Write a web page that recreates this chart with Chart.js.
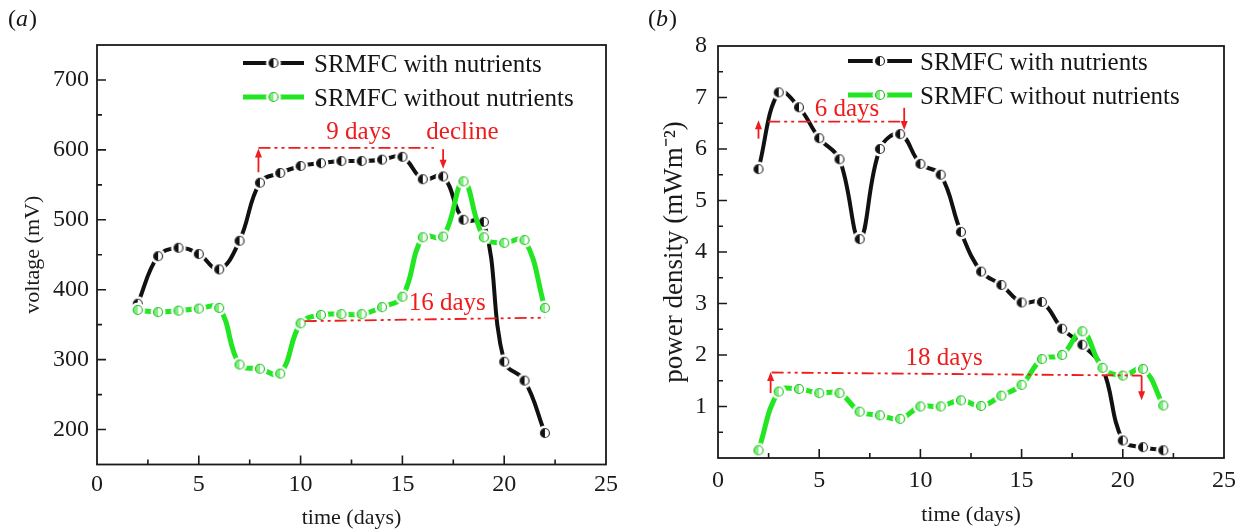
<!DOCTYPE html>
<html>
<head>
<meta charset="utf-8">
<script src="https://cdn.jsdelivr.net/npm/chart.js@4.4.0/dist/chart.umd.min.js"></script>
<style>
html, body { margin: 0; padding: 0; background: #fff; }
#wrap { position: relative; width: 1248px; height: 531px; }
canvas { position: absolute; top: 0; }
</style>
</head>
<body>
<div id="wrap">
  <canvas id="chartA" width="624" height="531" style="left:0"></canvas>
  <canvas id="chartB" width="624" height="531" style="left:624px"></canvas>
</div>
<script>
// time axis (days)
const days = [2, 3, 4, 5, 6, 7, 8, 9, 10, 11, 12, 13, 14, 15, 16, 17, 18, 19, 20, 21, 22];
const seriesNames = ["SRMFC with nutrients", "SRMFC without nutrients"];

// (a) voltage, mV
const voltWith = [380, 448, 460, 451, 429, 470, 553, 567, 577, 581, 584, 584, 586, 590, 558, 562, 500, 497, 297, 270, 195];
const voltWithout = [371, 368, 370, 373, 374, 293, 287, 280, 352, 364, 365, 365, 375, 390, 475, 476, 555, 475, 467, 471, 374];

// (b) power density, mW m-2
const powerWith = [5.61, 7.10, 6.81, 6.21, 5.80, 4.25, 6.00, 6.29, 5.71, 5.50, 4.39, 3.62, 3.36, 3.02, 3.03, 2.51, 2.20, 1.75, 0.34, 0.21, 0.15];
const powerWithout = [0.15, 1.29, 1.34, 1.26, 1.26, 0.90, 0.83, 0.76, 1.00, 1.00, 1.12, 1.01, 1.21, 1.42, 1.92, 2.00, 2.46, 1.75, 1.60, 1.73, 1.02];

// tick labels
const xTicks = [0, 5, 10, 15, 20, 25];
const voltTicks = [200, 300, 400, 500, 600, 700];
const powerTicks = [1, 2, 3, 4, 5, 6, 7, 8];

const SERIF = "'Liberation Serif', 'Times New Roman', serif";
const RED = "#ee1c1c";
const BLACK = "#111111";
const GREEN = "#22e622";

// small half filled circle with a white ring round it (leaves the gap in the line)
function makeMarker(fill, edge) {
  const c = document.createElement("canvas");
  c.width = c.height = 18;
  const g = c.getContext("2d");
  g.fillStyle = "#fff";
  g.beginPath(); g.arc(9, 9, 7.5, 0, Math.PI * 2); g.fill();
  g.beginPath(); g.arc(9, 9, 4.5, Math.PI / 2, Math.PI * 1.5); g.closePath();
  g.fillStyle = fill; g.fill();
  g.beginPath(); g.arc(9, 9, 4.5, 0, Math.PI * 2);
  g.strokeStyle = edge; g.lineWidth = 1.2; g.stroke();
  return c;
}
const markBlack = makeMarker("#111", "#333");
const markGreen = makeMarker("#7bf07b", "#2bbf2b");

function toPoints(ys) {
  return days.map((d, i) => ({ x: d, y: ys[i] }));
}

// frame, inward ticks, legend, notes, panel letter
const decor = {
  id: "decor",
  afterDatasetsDraw(chart, args, o) {
    const ctx = chart.ctx;
    const xs = chart.scales.x, ys = chart.scales.y;
    ctx.save();
    // dash-dot-dot lines
    ctx.strokeStyle = RED;
    ctx.lineWidth = 1.8;
    ctx.setLineDash([12, 4, 3, 4, 3, 4]);
    o.lines.forEach(l => {
      ctx.beginPath();
      ctx.moveTo(xs.getPixelForValue(l[0]), ys.getPixelForValue(l[1]));
      ctx.lineTo(xs.getPixelForValue(l[2]), ys.getPixelForValue(l[3]));
      ctx.stroke();
    });
    ctx.setLineDash([]);
    // arrows
    ctx.fillStyle = RED;
    o.arrows.forEach(a => {
      const x = xs.getPixelForValue(a[0]);
      const y0 = ys.getPixelForValue(a[1]), y1 = ys.getPixelForValue(a[2]);
      const dir = y1 > y0 ? 1 : -1;
      ctx.beginPath();
      ctx.moveTo(x, y0); ctx.lineTo(x, y1 - dir * 6);
      ctx.stroke();
      ctx.beginPath();
      ctx.moveTo(x, y1); ctx.lineTo(x - 3.5, y1 - dir * 9); ctx.lineTo(x + 3.5, y1 - dir * 9);
      ctx.closePath(); ctx.fill();
    });
    // texts
    ctx.font = "25px " + SERIF;
    ctx.textAlign = "center";
    ctx.textBaseline = "middle";
    o.texts.forEach(t => {
      ctx.fillText(t[2], xs.getPixelForValue(t[0]), ys.getPixelForValue(t[1]));
    });
    ctx.restore();
  },
  afterDraw(chart, args, o) {
    const ctx = chart.ctx;
    const a = chart.chartArea;
    const xs = chart.scales.x, ys = chart.scales.y;
    ctx.save();
    ctx.strokeStyle = "#1a1a1a";
    ctx.lineWidth = 1.8;
    ctx.strokeRect(a.left, a.top, a.right - a.left, a.bottom - a.top);
    ctx.lineWidth = 1.6;
    ctx.beginPath();
    o.xMajor.forEach(v => {
      const x = xs.getPixelForValue(v);
      ctx.moveTo(x, a.bottom); ctx.lineTo(x, a.bottom - 9);
    });
    o.xMinor.forEach(v => {
      const x = xs.getPixelForValue(v);
      ctx.moveTo(x, a.bottom); ctx.lineTo(x, a.bottom - 5);
    });
    o.yMajor.forEach(v => {
      const y = ys.getPixelForValue(v);
      ctx.moveTo(a.left, y); ctx.lineTo(a.left + 9, y);
    });
    o.yMinor.forEach(v => {
      const y = ys.getPixelForValue(v);
      ctx.moveTo(a.left, y); ctx.lineTo(a.left + 5, y);
    });
    ctx.stroke();

    // legend
    const lg = o.legend;
    ctx.font = "25px " + SERIF;
    ctx.textAlign = "left";
    ctx.textBaseline = "middle";
    chart.data.datasets.forEach((ds, i) => {
      const y = lg.y + i * lg.dy;
      ctx.strokeStyle = ds.borderColor;
      ctx.lineWidth = ds.borderWidth;
      ctx.beginPath(); ctx.moveTo(lg.x0, y); ctx.lineTo(lg.x1, y); ctx.stroke();
      const m = ds.pointStyle;
      ctx.drawImage(m, (lg.x0 + lg.x1) / 2 - m.width / 2, y - m.height / 2);
      ctx.fillStyle = "#151515";
      ctx.fillText(ds.label, lg.xt, y + 2);
    });

    // panel letter
    ctx.fillStyle = "#151515";
    let px = o.tag.x;
    ctx.font = "24px " + SERIF;
    ctx.fillText("(", px, o.tag.y); px += ctx.measureText("(").width;
    ctx.font = "italic 24px " + SERIF;
    ctx.fillText(o.tag.t, px, o.tag.y); px += ctx.measureText(o.tag.t).width + 1;
    ctx.font = "24px " + SERIF;
    ctx.fillText(")", px, o.tag.y);
    ctx.restore();
  }
};

function buildChart(id, p) {
  return new Chart(document.getElementById(id), {
    type: "line",
    plugins: [decor],
    data: {
      datasets: [
        {
          label: seriesNames[0], data: toPoints(p.withData),
          borderColor: BLACK, borderWidth: 4, tension: 0.4,
          pointStyle: markBlack, pointRadius: 6, order: 1
        },
        {
          label: seriesNames[1], data: toPoints(p.withoutData),
          borderColor: GREEN, borderWidth: 5, tension: 0.4,
          pointStyle: markGreen, pointRadius: 6, order: 0
        }
      ]
    },
    options: {
      responsive: false,
      animation: false,
      events: [],
      layout: { padding: p.pad },
      plugins: {
        legend: { display: false },
        tooltip: { enabled: false },
        decor: p.decor
      },
      scales: {
        x: {
          type: "linear", min: 0, max: 25,
          grid: { display: false, drawTicks: false }, border: { display: false },
          afterBuildTicks: s => { s.ticks = xTicks.map(v => ({ value: v })); },
          afterFit: s => { s.height = p.xH; },
          ticks: { color: "#1a1a1a", padding: p.xPad, font: { family: SERIF, size: 24 } },
          title: { display: true, text: "time (days)", color: "#1a1a1a",
                   font: { family: SERIF, size: 22 }, padding: { top: 0, bottom: p.xTitlePad } }
        },
        y: {
          type: "linear", min: p.yMin, max: p.yMax,
          grid: { display: false, drawTicks: false }, border: { display: false },
          afterBuildTicks: s => { s.ticks = p.yTicks.map(v => ({ value: v })); },
          afterFit: s => { s.width = p.yW; },
          ticks: { color: "#1a1a1a", padding: p.yPad, font: { family: SERIF, size: 24 } },
          title: { display: true, text: p.yTitle, color: "#1a1a1a",
                   font: { family: SERIF, size: p.yTitleSize }, padding: { top: p.yTitlePad, bottom: 0 } }
        }
      }
    }
  });
}

buildChart("chartA", {
  withData: voltWith, withoutData: voltWithout,
  yMin: 150, yMax: 750, yTicks: voltTicks, yTitle: "voltage (mV)", yTitleSize: 22,
  pad: { left: 0, top: 45, right: 12, bottom: 0 },
  xH: 66.5, yW: 97, xPad: 6, yPad: 8, xTitlePad: 0, yTitlePad: 20,
  decor: {
    xMajor: [5, 10, 15, 20], xMinor: [2.5, 7.5, 12.5, 17.5, 22.5],
    yMajor: [200, 300, 400, 500, 600, 700], yMinor: [250, 350, 450, 550, 650],
    legend: { x0: 243, x1: 304, xt: 314, y: 63, dy: 34 },
    tag: { x: 8, y: 20, t: "a" },
    lines: [[7.93, 603, 16.55, 603], [10.2, 355, 22.0, 360]],
    arrows: [[7.93, 568, 602], [17.0, 601, 573]],
    texts: [[12.85, 625, "9 days"], [17.95, 625, "decline"], [17.2, 381, "16 days"]]
  }
});

buildChart("chartB", {
  withData: powerWith, withoutData: powerWithout,
  yMin: 0, yMax: 8, yTicks: powerTicks, yTitle: "power density (mWm\u207B\u00B2)", yTitleSize: 27,
  pad: { left: 0, top: 46, right: 24, bottom: 0 },
  xH: 73, yW: 94, xPad: 8, yPad: 11, xTitlePad: 3, yTitlePad: 35,
  decor: {
    xMajor: [5, 10, 15, 20], xMinor: [2.5, 7.5, 12.5, 17.5, 22.5],
    yMajor: [1, 2, 3, 4, 5, 6, 7], yMinor: [0.5, 1.5, 2.5, 3.5, 4.5, 5.5, 6.5, 7.5],
    legend: { x0: 224, x1: 288, xt: 296, y: 61, dy: 34 },
    tag: { x: 24, y: 20, t: "b" },
    lines: [[2.48, 6.53, 9.14, 6.53], [2.65, 1.66, 20.93, 1.60]],
    arrows: [[2.0, 6.2, 6.56], [9.2, 6.8, 6.37], [2.6, 1.26, 1.67], [20.93, 1.60, 1.12]],
    texts: [[6.37, 6.76, "6 days"], [11.17, 1.94, "18 days"]]
  }
});
</script>
</body>
</html>
